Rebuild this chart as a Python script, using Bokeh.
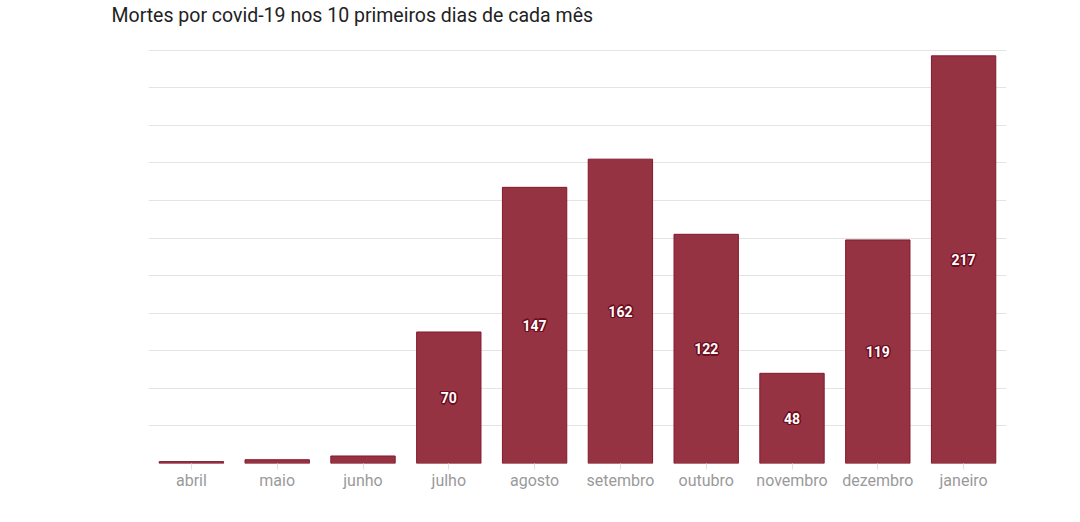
from bokeh.plotting import figure
from bokeh.models import ColumnDataSource, Range1d, FixedTicker, Title
from bokeh.core.properties import value
from bokeh.embed import file_html
from bokeh.resources import INLINE

meses = ["abril", "maio", "junho", "julho", "agosto", "setembro", "outubro", "novembro", "dezembro", "janeiro"]
mortes = [1, 2, 4, 70, 147, 162, 122, 48, 119, 217]
rotulos = ["", "", "", "70", "147", "162", "122", "48", "119", "217"]
grade = [0, 20, 40, 60, 80, 100, 120, 140, 160, 180, 200, 220]
titulo = "Mortes por covid-19 nos 10 primeiros dias de cada mês"

src = ColumnDataSource(dict(x=meses, top=mortes, mid=[v / 2 for v in mortes], lab=rotulos))

p = figure(x_range=meses, y_range=Range1d(0, 222.5), width=1068, height=513,
           output_backend="svg", toolbar_location=None,
           min_border_left=148, min_border_right=62, min_border_top=45, min_border_bottom=50)
p.x_range.range_padding = 0

p.title.text = titulo
p.title.text_font = "Roboto"
p.title.text_font_size = "19.5px"
p.title.text_font_style = "normal"
p.title.text_color = "#222222"
p.title.offset = -37
p.title.standoff = 0
p.title.vertical_align = "bottom"

# spacer between the title and the plot frame
p.add_layout(Title(text=" ", text_font_size="1px", standoff=16), "above")

p.vbar(x="x", top="top", width=0.75, source=src, fill_color="#963343",
       line_color="#84182b", line_width=1)

for dx, dy in [(-1, -1), (-1, 0), (-1, 1), (0, -1), (0, 1), (1, -1), (1, 0), (1, 1), (-1.5, 0), (1.5, 0), (0, 1.5), (0, -1.5)]:
    p.text(x="x", y="mid", text="lab", source=src, x_offset=dx, y_offset=dy,
           text_align="center", text_baseline="middle", text_color="#6e0d1f",
           text_font=value("Roboto"), text_font_style="bold", text_font_size="14px")
p.text(x="x", y="mid", text="lab", source=src, text_align="center", text_baseline="middle",
       text_color="white", text_font=value("Roboto"), text_font_style="bold", text_font_size="14px")

p.yaxis.visible = False
p.ygrid.ticker = FixedTicker(ticks=grade)
p.ygrid.grid_line_color = "#e4e4e4"
p.ygrid.grid_line_width = 1
p.xgrid.grid_line_color = None
p.outline_line_color = None

p.xaxis.axis_line_color = None
p.xaxis.major_tick_line_color = "#e0e0e0"
p.xaxis.major_tick_out = 6
p.xaxis.major_tick_in = 0
p.xaxis.minor_tick_line_color = None
p.xaxis.major_label_text_font = "Roboto"
p.xaxis.major_label_text_font_size = "16px"
p.xaxis.major_label_text_color = "#9a9a9a"
p.xaxis.major_label_standoff = 1

open("out.html", "w").write(file_html(p, INLINE))
